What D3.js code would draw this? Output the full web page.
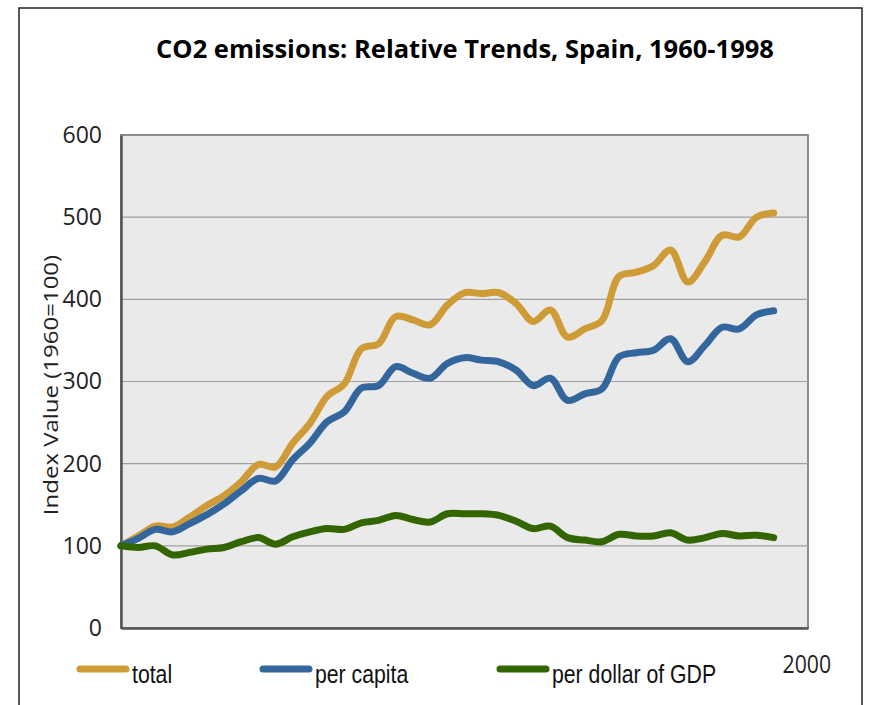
<!DOCTYPE html>
<html>
<head>
<meta charset="utf-8">
<script src="https://cdn.jsdelivr.net/npm/d3@7"></script>
<style>
  body { margin: 0; background: #fff; }
</style>
</head>
<body>
<script>
// years and index values (1960 = 100)
const years = d3.range(1960, 1999)
const total = [100, 112, 124, 123, 135, 149, 161, 178, 199, 196,
  225, 249, 282, 297, 340, 346, 379, 375, 369, 393,
  408, 407, 408, 395, 373, 387, 354, 364, 374, 428,
  433, 441, 460, 421, 446, 478, 476, 500, 505]
const perCapita = [100, 109, 120, 117, 127, 138, 151, 167, 182, 179,
  205, 225, 251, 263, 292, 295, 318, 310, 304, 322,
  329, 326, 324, 314, 295, 304, 277, 285, 291, 330,
  335, 338, 352, 324, 344, 366, 364, 381, 386]
const perGdp = [100, 98, 100, 89, 92, 96, 98, 105, 110, 102,
  111, 117, 121, 120, 128, 131, 137, 132, 129, 139,
  139, 139, 137, 130, 121, 124, 110, 107, 105, 114,
  112, 112, 116, 107, 110, 115, 112, 113, 110]
const seriesNames = ['total', 'per capita', 'per dollar of GDP']
const colors = ['#CE9B36', '#33669D', '#336600']
const yTicks = [0, 100, 200, 300, 400, 500, 600]

const w = 878
const h = 705
const pLeft = 121, pRight = 808, pTop = 135, pBottom = 628

const svg = d3.select('body').append('svg')
  .attr('width', w)
  .attr('height', h)

// outer frame
svg.append('rect')
  .attr('x', 19).attr('y', 8)
  .attr('width', 843).attr('height', 720)
  .attr('fill', 'none')
  .attr('stroke', '#222')
  .attr('stroke-width', 1.5)

// title
svg.append('text')
  .attr('x', 465)
  .attr('y', 58)
  .attr('text-anchor', 'middle')
  .style('font-family', 'Open Sans, sans-serif')
  .style('font-weight', 'bold')
  .style('font-size', '25.5px')
  .text('CO2 emissions: Relative Trends, Spain, 1960-1998')

const xScale = d3.scaleLinear().domain([1960, 2000]).range([pLeft, pRight])
const yScale = d3.scaleLinear().domain([0, 600]).range([pBottom, pTop])

// plot background
svg.append('rect')
  .attr('x', pLeft).attr('y', pTop)
  .attr('width', pRight - pLeft).attr('height', pBottom - pTop)
  .attr('fill', '#eaeaea')
  .attr('stroke', '#8c8c8c')
  .attr('stroke-width', 2)

// gridlines
svg.append('g')
  .selectAll('line')
  .data(yTicks.filter(d => d > 0 && d < 600))
  .enter()
  .append('line')
  .attr('x1', pLeft).attr('x2', pRight)
  .attr('y1', d => yScale(d)).attr('y2', d => yScale(d))
  .attr('stroke', '#a0a0a0')
  .attr('stroke-width', 1.2)

// y axis
const yAxis = d3.axisLeft(yScale).tickValues(yTicks).tickSize(0).tickPadding(19)
const gy = svg.append('g')
  .attr('transform', `translate(${pLeft},0)`)
  .call(yAxis)
gy.select('.domain').attr('stroke', '#555').attr('stroke-width', 2.5)
gy.selectAll('text')
  .style('font-family', 'Open Sans, sans-serif')
  .style('font-size', '23px')
  .attr('fill', '#222')

// x axis, only the 2000 label
const xAxis = d3.axisBottom(xScale).tickValues([2000]).tickSize(0).tickFormat(d3.format('d'))
const gx = svg.append('g')
  .attr('transform', `translate(0,${pBottom})`)
  .call(xAxis)
gx.select('.domain').attr('stroke', '#555').attr('stroke-width', 2.5)
gx.selectAll('text')
  .attr('x', -2)
  .attr('y', 45)
  .attr('dy', null)
  .attr('transform', 'scale(0.85,1)')
  .style('font-family', 'Open Sans, sans-serif')
  .style('font-size', '25px')
  .attr('fill', '#222')

// y axis title
svg.append('text')
  .attr('transform', 'translate(58,385) rotate(-90) scale(1.2,1)')
  .attr('text-anchor', 'middle')
  .style('font-family', 'Open Sans, sans-serif')
  .style('font-size', '20px')
  .attr('fill', '#222')
  .text('Index Value (1960=100)')

// lines
const series = [total, perCapita, perGdp]
const line = d3.line()
  .x((d, i) => xScale(years[i]))
  .y(d => yScale(d))
  .curve(d3.curveCatmullRom.alpha(0.5))

svg.append('g')
  .selectAll('path')
  .data(series)
  .enter()
  .append('path')
  .attr('d', line)
  .attr('fill', 'none')
  .attr('stroke', (d, i) => colors[i])
  .attr('stroke-width', 7)
  .attr('stroke-linecap', 'round')
  .attr('stroke-linejoin', 'round')

// legend
const legendX = [77, 260, 497]
const legend = svg.append('g')
  .selectAll('g')
  .data(seriesNames)
  .enter()
  .append('g')
  .attr('transform', (d, i) => `translate(${legendX[i]},669)`)

legend.append('line')
  .attr('x1', 3).attr('x2', 49)
  .attr('stroke', (d, i) => colors[i])
  .attr('stroke-width', 7)
  .attr('stroke-linecap', 'round')

legend.append('text')
  .attr('transform', 'translate(55,14) scale(0.85,1)')
  .style('font-family', 'Liberation Sans, Arial, sans-serif')
  .style('font-size', '25px')
  .attr('fill', '#111')
  .text(d => d)
</script>
</body>
</html>
